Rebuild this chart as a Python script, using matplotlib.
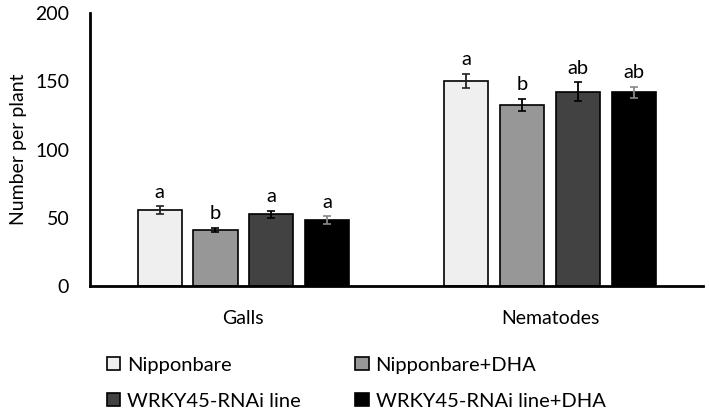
import numpy as np
import matplotlib.pyplot as plt
from matplotlib.patches import Patch

plt.rcParams['font.family'] = ['Lato', 'DejaVu Sans']
plt.rcParams['font.size'] = 14

categories = ['Galls', 'Nematodes']
groups = ['Nipponbare', 'Nipponbare+DHA', 'WRKY45-RNAi line', 'WRKY45-RNAi line+DHA']
values = [[55.7, 150.4],
          [41.0, 132.6],
          [52.5, 142.3],
          [48.4, 141.9]]
errors = [[2.8, 5.1],
          [1.5, 4.5],
          [2.6, 7.0],
          [2.7, 4.0]]
letters = [['a', 'a'],
           ['b', 'b'],
           ['a', 'ab'],
           ['a', 'ab']]
colors = ['#efefef', '#979797', '#424242', '#000000']
err_colors = ['#222222', '#000000', '#000000', '#888888']

fig = plt.figure(figsize=(7.09, 4.16), dpi=100)
ax = fig.add_axes([0.127, 0.3125, 0.865, 0.656])

x = np.arange(len(categories))
w = 0.144
step = 0.182
for i in range(4):
    pos = x + (i - 1.5) * step
    ax.bar(pos, values[i], w, color=colors[i], edgecolor='black', linewidth=1.2, zorder=2)
    ax.errorbar(pos, values[i], yerr=errors[i], fmt='none', ecolor=err_colors[i],
                elinewidth=1.3, capsize=3, capthick=1.2, zorder=3)
    for j in range(len(categories)):
        ax.annotate(letters[i][j], (pos[j], values[i][j] + errors[i][j]),
                    xytext=(0, 4), textcoords='offset points',
                    ha='center', va='bottom', fontsize=14.5)

ax.set_xlim(-0.5, 1.5)
ax.set_ylim(0, 200)
ax.set_yticks([0, 50, 100, 150, 200])
ax.set_xticks(x)
ax.set_xticklabels(categories)
ax.tick_params(axis='both', length=0, labelsize=14)
ax.tick_params(axis='x', pad=17)
ax.tick_params(axis='y', pad=15)
ax.set_ylabel('Number per plant', fontsize=14, labelpad=6)
for s in ['top', 'right']:
    ax.spines[s].set_visible(False)
ax.spines['left'].set_linewidth(2)
ax.spines['bottom'].set_linewidth(2)

# legend rows: (Nipponbare, Nipponbare+DHA), (WRKY45, WRKY45+DHA)
order = [0, 2, 1, 3]
handles = [Patch(facecolor=colors[k], edgecolor='black', linewidth=1.2) for k in order]
labels = [groups[k] for k in order]
fig.legend(handles, labels, ncol=2, loc='center left', bbox_to_anchor=(0.137, 0.079),
           frameon=False, borderpad=0, handlelength=0.65, handleheight=0.65,
           handletextpad=0.35, columnspacing=2.7, labelspacing=0.95, fontsize=14.5)

plt.savefig('out.png', dpi=100)
